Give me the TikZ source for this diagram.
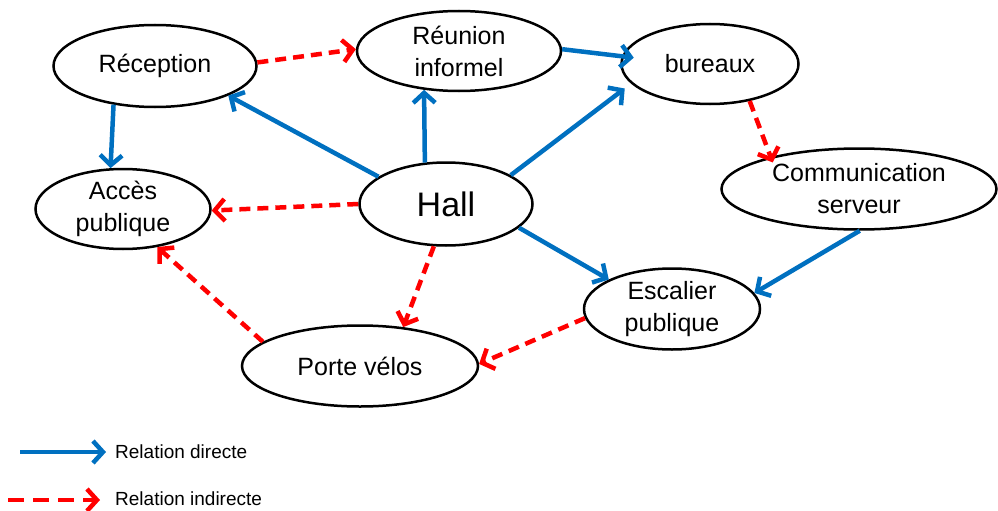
\documentclass[tikz,border=0pt]{standalone}
\usepackage{fontspec}
\setmainfont{Liberation Sans}
\usetikzlibrary{arrows.meta, shapes.geometric}
\definecolor{bleu}{RGB}{0,112,192}

\begin{document}
\begin{tikzpicture}[x=1pt, y=-1pt,
	place/.style={draw, ellipse, line width=2.5pt, inner sep=0pt, align=center, font=\fontsize{25}{32}\selectfont},
	direct/.style={draw=bleu, line width=4.5pt, -{Straight Barb[length=10pt, width=22pt]}},
	indirect/.style={draw=red, line width=4.5pt, dash pattern=on 11pt off 7pt, -{Straight Barb[length=10pt, width=22pt]}},
	legend/.style={anchor=west, inner sep=0pt, font=\fontsize{19}{22}\selectfont}]
\useasboundingbox (0,0) rectangle (998,511);

\node [place, minimum width=203pt, minimum height=82pt] (rec) at (155,66) {Réception};
\node [place, minimum width=204pt, minimum height=80pt] (reu) at (459,51) {Réunion\\informel};
\node [place, minimum width=177pt, minimum height=80pt] (bur) at (710,64) {bureaux};
\node [place, minimum width=175pt, minimum height=80pt] (acc) at (123,209) {Accès\\publique};
\node [place, minimum width=173pt, minimum height=83pt, font=\fontsize{34}{40}\selectfont] (hall) at (446,204) {Hall};
\node [place, minimum width=275pt, minimum height=81pt] (com) at (859,189) {Communication\\serveur};
\node [place, minimum width=176pt, minimum height=81pt] (esc) at (672,309) {Escalier\\publique};
\node [place, minimum width=236pt, minimum height=81pt] (por) at (360,366) {Porte vélos};

\draw [direct] (rec.223) -- (acc.107);
\draw [direct] (hall.158) -- (rec.338);
\draw [direct] (hall.117) -- (reu.228);
\draw [indirect] (rec.2) -- (reu.179);
\draw [direct, shorten >=-12pt] (reu.1) -- (bur.175);
\draw [direct, shorten >=8pt] (hall.24) -- (bur.194);
\draw [indirect, shorten >=-6pt] (bur.317) -- (com.160);
\draw [indirect] (hall.180) -- (acc.359);
\draw [indirect] (hall.254) -- (por.42);
\draw [indirect] (por.166) -- (acc.312);
\draw [indirect] (esc.186) -- (por.1);
\draw [direct] (hall.342) -- (esc.155);
\draw [direct] (com.271) -- (esc.11);

\coordinate (d0) at (20,452);
\coordinate (d1) at (106,452);
\draw [direct] (d0) -- (d1);
\node [legend] (ldirect) at (115,452) {Relation directe};
\coordinate (i0) at (8,500);
\coordinate (i1) at (100,500);
\draw [indirect, dash pattern=on 16pt off 9pt] (i0) -- (i1);
\node [legend] (lindirect) at (115,499) {Relation indirecte};
\end{tikzpicture}
\end{document}
